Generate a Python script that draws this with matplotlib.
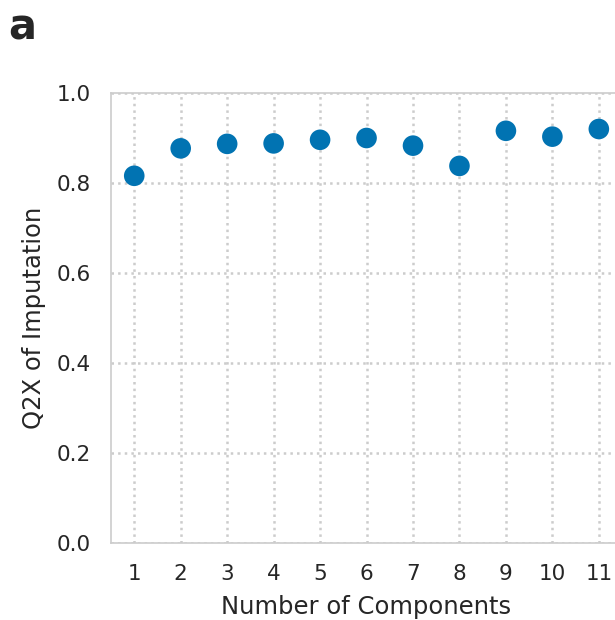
import numpy as np
import matplotlib
matplotlib.use('Agg')
import matplotlib.pyplot as plt
import seaborn as sns

# Q2X of imputation per number of components
components = [1, 2, 3, 4, 5, 6, 7, 8, 9, 10, 11]
q2x = [0.816, 0.877, 0.887, 0.888, 0.896, 0.900, 0.883, 0.838, 0.916, 0.903, 0.920]
y_ticks = [0.0, 0.2, 0.4, 0.6, 0.8, 1.0]

sns.set_theme(style='whitegrid')
plt.rcParams['font.family'] = ['DejaVu Sans']

fig = plt.figure(figsize=(6.15, 6.2), dpi=100)
ax = fig.add_axes([0.1805, 0.1242, 0.831, 0.7258])

ax.scatter(components, q2x, s=220, color='#0173b2', edgecolor='none', zorder=3)

ax.set_xlim(0.5, 11.5)
ax.set_ylim(0.0, 1.0)
ax.set_xticks(components)
ax.set_yticks(y_ticks)
ax.set_yticklabels([f'{v:.1f}' for v in y_ticks])
ax.grid(True, linestyle=':', linewidth=1.8, color='#cccccc')
for sp in ax.spines.values():
    sp.set_color('#cccccc')
    sp.set_linewidth(1.2)
ax.tick_params(axis='both', labelsize=15.5, colors='#262626', length=0)
ax.tick_params(axis='x', pad=15)
ax.tick_params(axis='y', pad=14.5)
ax.set_xlabel('Number of Components', fontsize=17.5, color='#262626', labelpad=8)
ax.set_ylabel('Q2X of Imputation', fontsize=17.5, color='#262626', labelpad=8)

fig.text(0.014, 0.937, 'a', fontsize=30, fontweight='bold', color='#262626', va='baseline')

fig.savefig('out.png', dpi=100)
